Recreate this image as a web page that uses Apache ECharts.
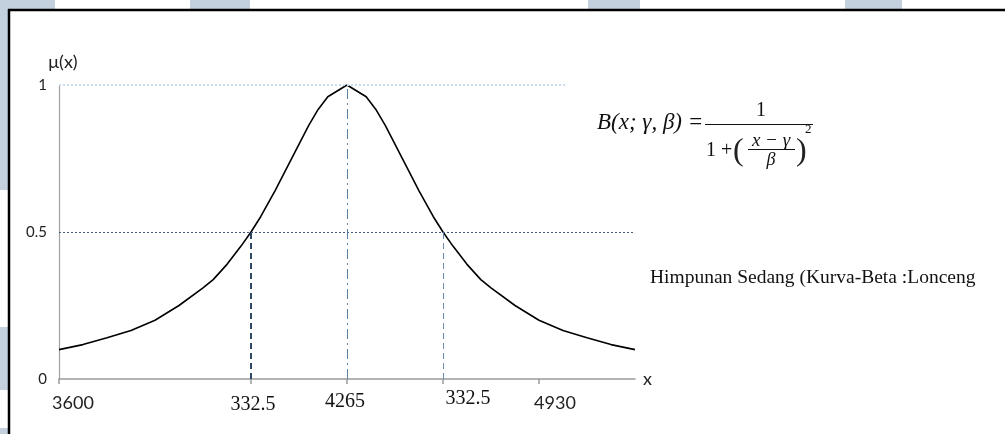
<!DOCTYPE html>
<html><head><meta charset="utf-8">
<script src="https://cdn.jsdelivr.net/npm/echarts@6/dist/echarts.min.js"></script>
<style>html,body{margin:0;padding:0;background:#fff}#c{width:1005px;height:434px}</style>
</head><body><div id="c"></div>
<script>
// ---- data ----
const xMin = 3267.5, xMax = 5262.5;
const tickValues = [3267.5, 3932.5, 4265, 4597.5, 4930];
const tickLabels = ['3600', '332.5', '4265', '332.5', '4930'];
const yTickValues = [0, 0.5, 1];
const yTickLabels = ['0', '0.5', '1'];
const curveX = [3267.5, 3350.6, 3433.75, 3516.9, 3600, 3683.1, 3766.25, 3801.5, 3849.4, 3898, 3932.5, 3966, 4015.6,
                4065.5, 4132, 4165, 4198.5, 4265,
                4331.5, 4365, 4398, 4464.5, 4514.4, 4564, 4597.5, 4632, 4680.6, 4728.5, 4763.75, 4846.9, 4930,
                5013.1, 5096.25, 5179.4, 5262.5];
const curveY = [0.10, 0.117, 0.14, 0.165, 0.20, 0.25, 0.31, 0.338, 0.39, 0.452, 0.50, 0.552, 0.64,
                0.735, 0.862, 0.917, 0.96, 1.00,
                0.96, 0.917, 0.862, 0.735, 0.64, 0.552, 0.50, 0.452, 0.39, 0.338, 0.31, 0.25, 0.20,
                0.165, 0.14, 0.117, 0.10];
const halfLevel = 0.5;
const peakLevel = 1;
const peakLineEnd = 5027;
const crossLeft = 3932.5, centerX = 4265, crossRight = 4597.5;
const titleText = 'Himpunan Sedang (Kurva-Beta :Lonceng';

const chart = echarts.init(document.getElementById('c'), null, {renderer: 'canvas'});
const labelStyle = ['s0', 'r1', 'r2', 'r3', 's4'];
const serif = '"Liberation Serif", "Times New Roman", serif';
const sans = 'Lato, "Open Sans", sans-serif';

const option = {
  animation: false,
  backgroundColor: '#fff',
  grid: {left: 59, right: 370, top: 85, bottom: 55},
  xAxis: {
    type: 'value', min: xMin, max: xMax,
    name: 'x', nameLocation: 'end', nameGap: 8,
    nameTextStyle: {fontFamily: sans, fontSize: 18, color: '#222', verticalAlign: 'middle', padding: [0,0,4,0]},
    axisLine: {lineStyle: {color: '#9a9a9a', width: 1.5}},
    axisTick: {show: true, customValues: tickValues, length: 5, lineStyle: {color: '#9a9a9a', width: 1.5}},
    splitLine: {show: false},
    axisLabel: {
      customValues: tickValues, margin: 13, color: '#222',
      formatter: function (v) {
        const i = tickValues.indexOf(v);
        return i < 0 ? '' : '{' + labelStyle[i] + '|' + tickLabels[i] + '}';
      },
      rich: {
        s0: {fontFamily: sans, fontSize: 18, color: '#222', padding: [2, 0, 0, 28]},
        r1: {fontFamily: serif, fontSize: 20, color: '#111', padding: [3, 0, 0, 4]},
        r2: {fontFamily: serif, fontSize: 20, color: '#111', padding: [0, 4, 0, 0]},
        r3: {fontFamily: serif, fontSize: 20, color: '#111', padding: [-3, 0, 0, 50]},
        s4: {fontFamily: sans, fontSize: 18, color: '#222', padding: [2, 0, 0, 32]}
      }
    }
  },
  yAxis: {
    type: 'value', min: 0, max: 1, interval: 0.5,
    name: 'μ(x)', nameLocation: 'end', nameGap: 14,
    nameTextStyle: {fontFamily: sans, fontSize: 18, color: '#222', padding: [0, 0, 0, 8]},
    axisLine: {show: true, lineStyle: {color: '#a0a0a0', width: 1.2}},
    axisTick: {show: false},
    splitLine: {show: false},
    axisLabel: {
      margin: 12, fontFamily: sans, fontSize: 15, color: '#222',
      formatter: function (v) { const i = yTickValues.indexOf(v); return i < 0 ? '' : yTickLabels[i]; }
    }
  },
  series: [
    {
      type: 'line', silent: true, data: [], z: 1,
      markLine: {
        silent: true, symbol: 'none', label: {show: false}, animation: false,
        data: [
          [{coord: [xMin, peakLevel], lineStyle: {color: '#cadcf0', width: 2, type: [2, 2]}}, {coord: [peakLineEnd, peakLevel]}],
          [{coord: [xMin, halfLevel], lineStyle: {color: '#3e5c7c', width: 1, type: [2, 2]}}, {coord: [xMax, halfLevel]}],
          [{coord: [crossLeft, 0], lineStyle: {color: '#2c4866', width: 2, type: [6, 4]}}, {coord: [crossLeft, halfLevel]}],
          [{coord: [centerX, 0], lineStyle: {color: '#5b7fa5', width: 1, type: [10, 4, 2, 4]}}, {coord: [centerX, peakLevel]}],
          [{coord: [crossRight, 0], lineStyle: {color: '#6a8cb0', width: 1, type: [6, 4]}}, {coord: [crossRight, halfLevel]}]
        ]
      }
    },
    {
      type: 'line', z: 3, silent: true, smooth: false, showSymbol: false, symbol: 'none',
      lineStyle: {color: '#000', width: 1.6},
      data: curveX.map((x, i) => [x, curveY[i]])
    }
  ],
  graphic: [
    // watermark blocks and frame
    {type: 'rect', z: -10, silent: true, shape: {x: 0, y: 0, width: 55, height: 9}, style: {fill: '#c3d1de'}},
    {type: 'rect', z: -10, silent: true, shape: {x: 190, y: 0, width: 60, height: 9}, style: {fill: '#c3d1de'}},
    {type: 'rect', z: -10, silent: true, shape: {x: 588, y: 0, width: 52, height: 9}, style: {fill: '#c3d1de'}},
    {type: 'rect', z: -10, silent: true, shape: {x: 845, y: 0, width: 57, height: 9}, style: {fill: '#c3d1de'}},
    {type: 'rect', z: -10, silent: true, shape: {x: 0, y: 0, width: 8, height: 190}, style: {fill: '#c3d1de'}},
    {type: 'rect', z: -10, silent: true, shape: {x: 0, y: 327, width: 8, height: 63}, style: {fill: '#c3d1de'}},
    {type: 'rect', z: -10, silent: true, shape: {x: 0, y: 428, width: 8, height: 6}, style: {fill: '#c3d1de'}},
    {type: 'line', silent: true, shape: {x1: 8, y1: 10, x2: 1005, y2: 10}, style: {stroke: '#000', lineWidth: 2.5}},
    {type: 'line', silent: true, shape: {x1: 9, y1: 9, x2: 9, y2: 434}, style: {stroke: '#000', lineWidth: 2.5}},
    // formula
    {type: 'text', silent: true, left: 597, top: 111, style: {text: 'B(x; γ, β) =', fontFamily: serif, fontStyle: 'italic', fontSize: 23, fill: '#111'}},
    {type: 'line', silent: true, shape: {x1: 705, y1: 124.5, x2: 813, y2: 124.5}, style: {stroke: '#111', lineWidth: 1.2}},
    {type: 'text', silent: true, x: 761, y: 111, style: {text: '1', fontFamily: serif, fontSize: 20, fill: '#111', align: 'center', verticalAlign: 'middle'}},
    {type: 'text', silent: true, x: 706, y: 151, style: {text: '1 +', fontFamily: serif, fontSize: 20, fill: '#111', verticalAlign: 'middle'}},
    {type: 'text', silent: true, x: 733, y: 152, style: {text: '(', fontFamily: serif, fontSize: 32, fill: '#222', verticalAlign: 'middle'}},
    {type: 'text', silent: true, x: 771, y: 141, style: {text: 'x − γ', fontFamily: serif, fontStyle: 'italic', fontSize: 19, fill: '#111', align: 'center', verticalAlign: 'middle'}},
    {type: 'line', silent: true, shape: {x1: 748, y1: 149.5, x2: 795, y2: 149.5}, style: {stroke: '#111', lineWidth: 1}},
    {type: 'text', silent: true, x: 771, y: 160, style: {text: 'β', fontFamily: serif, fontStyle: 'italic', fontSize: 18, fill: '#111', align: 'center', verticalAlign: 'middle'}},
    {type: 'text', silent: true, x: 796, y: 152, style: {text: ')', fontFamily: serif, fontSize: 32, fill: '#222', verticalAlign: 'middle'}},
    {type: 'text', silent: true, x: 805, y: 130, style: {text: '2', fontFamily: serif, fontSize: 13, fill: '#111', verticalAlign: 'middle'}},
    // right caption
    {type: 'text', silent: true, x: 650, y: 278, style: {text: titleText, fontFamily: serif, fontSize: 19.5, fill: '#111', verticalAlign: 'middle'}}
  ]
};
chart.setOption(option);
</script>
</body></html>
